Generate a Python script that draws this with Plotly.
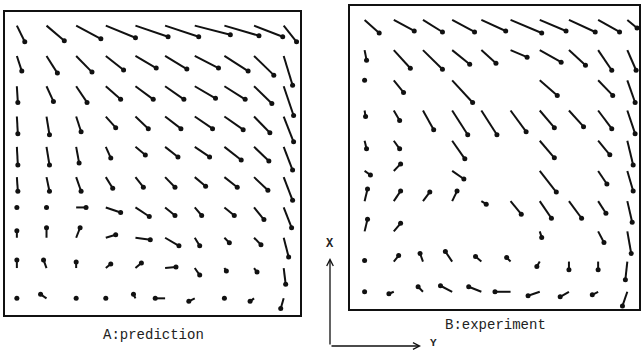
import plotly.graph_objects as go

W, H = 643, 352

# grid of the vector field (cell centres), top row first
GRID_X = [0.5, 1.5, 2.5, 3.5, 4.5, 5.5, 6.5, 7.5, 8.5, 9.5]
GRID_Y = [9.5, 8.5, 7.5, 6.5, 5.5, 4.5, 3.5, 2.5, 1.5, 0.5]

# A: prediction - velocity components (u to the right, v upward), top row first
A_U = [
    [8, 18, 25, 30, 33, 34, 36, 35, 29, 13],
    [5, 11, 16, 18, 21, 22, 24, 24, 20, 9],
    [1, 7, 11, 15, 18, 19, 21, 21, 18, 10],
    [1, 3, 5, 10, 13, 16, 18, 19, 16, 10],
    [1, 3, 3, 5, 10, 13, 15, 17, 15, 9],
    [1, 3, 5, 7, 8, 10, 11, 13, 14, 9],
    [0, 0, 10, 15, 14, 10, 7, 10, 10, 8],
    [0, 0, 4, 10, 15, 14, 5, 5, 7, 5],
    [0, -3, 0, 5, 6, 11, 5, 2, 3, 2],
    [0, -6, 0, 0, -2, -10, -6, 0, -4, -3],
]
A_V = [
    [-16, -15, -13, -12, -11, -11, -9, -10, -11, -16],
    [-15, -17, -16, -14, -12, -13, -12, -15, -19, -29],
    [-16, -15, -16, -13, -13, -13, -12, -13, -17, -29],
    [-17, -18, -15, -11, -12, -12, -12, -13, -16, -25],
    [-18, -18, -16, -11, -8, -10, -10, -13, -14, -23],
    [-14, -14, -14, -11, -10, -10, -9, -10, -13, -23],
    [0, 0, 0, -5, -9, -8, -8, -8, -12, -20],
    [7, 10, 10, 3, -2, -8, -8, -5, -7, -19],
    [8, 8, 6, 4, 5, 1, -7, -3, -4, -16],
    [0, 4, 0, 0, 4, 0, -3, 0, -3, -10],
]

# B: experiment - None where no measurement
B_U = [
    [15, 21, 20, 23, 25, 32, 27, 27, 22, 10],
    [2, 17, 20, 18, 15, 17, 22, 17, 14, 9],
    [0, 10, None, 21, None, None, 18, None, 15, 8],
    [1, 6, 11, 16, 16, 16, 15, 15, 14, 8],
    [2, 6, None, 13, None, None, 15, None, 12, 6],
    [6, 7, None, 12, None, None, 17, None, 9, 6],
    [3, 7, 7, 5, 5, 11, 12, 13, 8, 5],
    [3, 7, None, None, None, None, 2, None, 6, 4],
    [0, 5, -3, -7, -6, -4, -3, 0, 0, -2],
    [0, -5, -5, -12, -13, -16, -12, -9, -6, -5],
]
B_V = [
    [-13, -11, -12, -12, -11, -13, -11, -12, -12, -8],
    [-10, -18, -19, -14, -13, -7, -12, -15, -20, -20],
    [0, -12, None, -22, None, None, -15, None, -15, -22],
    [-6, -10, -19, -24, -24, -21, -17, -16, -18, -23],
    [-8, -8, None, -18, None, None, -17, None, -14, -24],
    [-4, 7, None, -8, None, None, -21, None, -13, -20],
    [12, 10, 9, 10, -3, -13, -17, -17, -12, -21],
    [12, 8, None, None, None, None, -6, None, -11, -22],
    [1, 6, 8, 10, 5, 4, -5, -8, -8, -18],
    [0, -2, 5, 6, 5, 0, -4, -5, -3, -14],
]

SCALE = 1 / 30  # velocity -> grid units


def quiver(u_rows, v_rows, xref, yref):
    lx, ly, hx, hy = [], [], [], []
    for r, (urow, vrow) in enumerate(zip(u_rows, v_rows)):
        for c, (u, v) in enumerate(zip(urow, vrow)):
            if u is None:
                continue
            x0, y0 = GRID_X[c], GRID_Y[r]
            x1, y1 = x0 + u * SCALE, y0 + v * SCALE
            lx += [x0, x1, None]
            ly += [y0, y1, None]
            hx.append(x1)
            hy.append(y1)
    lines = go.Scatter(x=lx, y=ly, mode='lines', xaxis=xref, yaxis=yref,
                       line={'color': '#111', 'width': 2}, hoverinfo='skip')
    heads = go.Scatter(x=hx, y=hy, mode='markers', xaxis=xref, yaxis=yref,
                       marker={'color': '#111', 'size': 5}, hoverinfo='skip')
    return [lines, heads]


fig = go.Figure(quiver(A_U, A_V, 'x', 'y') + quiver(B_U, B_V, 'x2', 'y2'))

box = dict(showline=True, mirror=True, linecolor='#111', linewidth=2,
           showgrid=False, zeroline=False, showticklabels=False, ticks='')

fig.update_layout(
    width=W, height=H,
    margin={'l': 0, 'r': 0, 't': 0, 'b': 0},
    paper_bgcolor='white', plot_bgcolor='white',
    showlegend=False,
    xaxis={**box, 'domain': [5 / W, 300 / W], 'range': [0.1, 10.05]},
    yaxis={**box, 'domain': [1 - 315 / H, 1 - 12 / H], 'range': [-0.05, 9.95]},
    xaxis2={**box, 'domain': [350 / W, 639 / W], 'range': [0, 9.9], 'anchor': 'y2'},
    yaxis2={**box, 'domain': [1 - 309 / H, 1 - 6 / H], 'range': [-0.07, 9.96], 'anchor': 'x2'},
)

mono = {'family': 'Liberation Mono, Courier New, monospace', 'size': 14, 'color': '#222'}
centre = {'xref': 'paper', 'yref': 'paper', 'xanchor': 'center', 'yanchor': 'middle',
          'showarrow': False}

fig.add_annotation(x=153 / W, y=1 - 335 / H, text='A:prediction', font=mono, **centre)
fig.add_annotation(x=496 / W, y=1 - 325 / H, text='B:experiment', font=mono, **centre)

# coordinate indicator
fig.add_annotation(x=330 / W, y=1 - 258 / H, xref='paper', yref='paper', text='',
                   showarrow=True, ax=0, ay=88, arrowhead=5, arrowwidth=1.3, arrowcolor='#111')
fig.add_annotation(x=421 / W, y=1 - 346 / H, xref='paper', yref='paper', text='',
                   showarrow=True, ax=-91, ay=0, arrowhead=5, arrowwidth=1.3, arrowcolor='#111')
fig.add_annotation(x=330 / W, y=1 - 244 / H, text='<b>X</b>', font={**mono, 'size': 12}, **centre)
fig.add_annotation(x=433 / W, y=1 - 343 / H, text='<b>Y</b>', font={**mono, 'size': 11}, **centre)

fig.write_html('out.html', config={'displayModeBar': False},
               post_script="document.body.style.margin='0';")
